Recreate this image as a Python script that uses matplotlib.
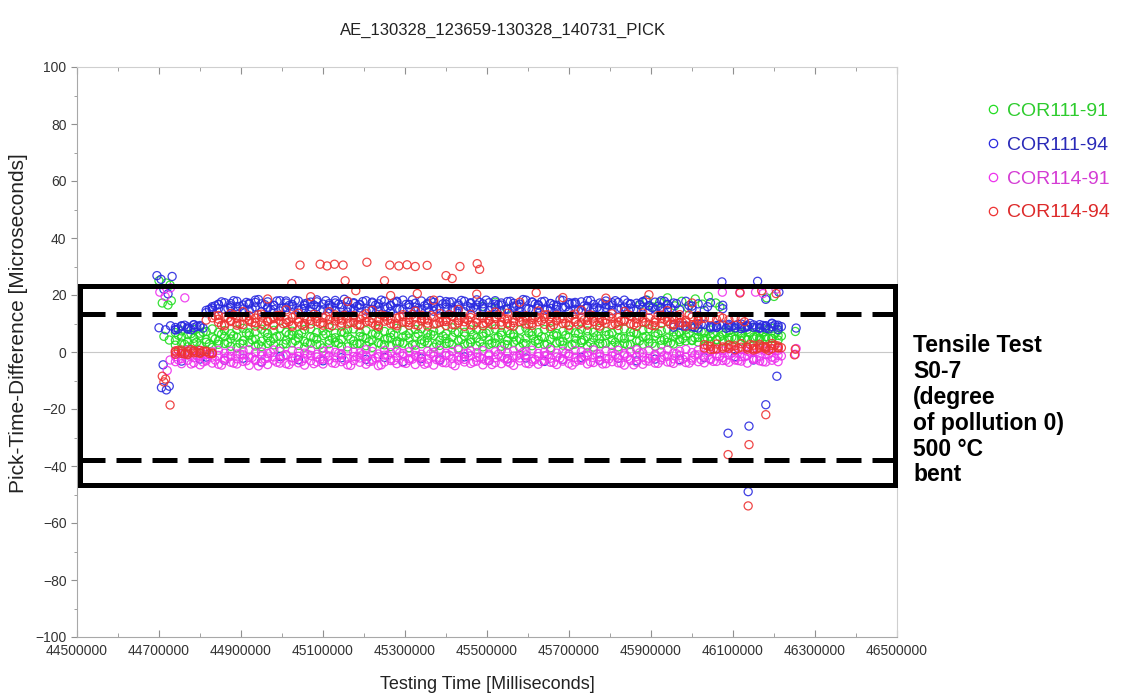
import matplotlib
matplotlib.use("Agg")
import matplotlib.pyplot as plt
from matplotlib.patches import Rectangle
from matplotlib.lines import Line2D
from matplotlib.ticker import MultipleLocator

plt.rcParams['font.family'] = ['Liberation Sans', 'DejaVu Sans']

# ---------------------------------------------------------------- data
title = "AE_130328_123659-130328_140731_PICK"
series_names = ["COR111-91", "COR111-94", "COR114-91", "COR114-94"]

# sample clocks of the pick stream [ms]
times = [
    44740000, 44755000, 44770000, 44785000, 44800000, 44815000, 44830000, 44845000, 44860000, 44875000,
    44890000, 44905000, 44920000, 44935000, 44950000, 44965000, 44980000, 44995000, 45010000, 45025000,
    45040000, 45055000, 45070000, 45085000, 45100000, 45115000, 45130000, 45145000, 45160000, 45175000,
    45190000, 45205000, 45220000, 45235000, 45250000, 45265000, 45280000, 45295000, 45310000, 45325000,
    45340000, 45355000, 45370000, 45385000, 45400000, 45415000, 45430000, 45445000, 45460000, 45475000,
    45490000, 45505000, 45520000, 45535000, 45550000, 45565000, 45580000, 45595000, 45610000, 45625000,
    45640000, 45655000, 45670000, 45685000, 45700000, 45715000, 45730000, 45745000, 45760000, 45775000,
    45790000, 45805000, 45820000, 45835000, 45850000, 45865000, 45880000, 45895000, 45910000, 45925000,
    45940000, 45955000, 45970000, 45985000, 46000000, 46015000, 46030000, 46045000, 46060000, 46075000,
    46090000, 46105000, 46120000, 46135000, 46150000, 46165000, 46180000, 46195000, 46210000,
]
times_b = [
    44747000, 44762500, 44778000, 44792000, 44807500, 44823000, 44837000, 44852500, 44868000, 44882000,
    44897500, 44913000, 44927000, 44942500, 44958000, 44972000, 44987500, 45003000, 45017000, 45032500,
    45048000, 45062000, 45077500, 45093000, 45107000, 45122500, 45138000, 45152000, 45167500, 45183000,
    45197000, 45212500, 45228000, 45242000, 45257500, 45273000, 45287000, 45302500, 45318000, 45332000,
    45347500, 45363000, 45377000, 45392500, 45408000, 45422000, 45437500, 45453000, 45467000, 45482500,
    45498000, 45512000, 45527500, 45543000, 45557000, 45572500, 45588000, 45602000, 45617500, 45633000,
    45647000, 45662500, 45678000, 45692000, 45707500, 45723000, 45737000, 45752500, 45768000, 45782000,
    45797500, 45813000, 45827000, 45842500, 45858000, 45872000, 45887500, 45903000, 45917000, 45932500,
    45948000, 45962000, 45977500, 45993000, 46007000, 46022500, 46038000, 46052000, 46067500, 46083000,
    46097000, 46112500, 46128000, 46142000, 46157500, 46173000, 46187000, 46202500, 46218000,
]

# COR111-91 pick-time differences [us]
cor111_91_a = [
    6.8, 7.4, 6.1, 7.9, 6.6, 7.2, 8.1, 6.9, 7.5, 6.4,
    7.8, 8.3, 6.7, 7.1, 8.0, 6.5, 7.6, 8.4, 6.9, 7.3,
    6.2, 7.9, 8.2, 6.8, 7.4, 8.6, 6.6, 7.0, 7.8, 8.1,
    6.9, 7.5, 6.3, 8.0, 7.2, 6.7, 8.3, 7.6, 6.5, 7.9,
    8.2, 6.8, 7.3, 7.7, 6.4, 8.5, 7.0, 6.9, 7.8, 8.0,
    6.6, 7.4, 8.1, 6.9, 7.5, 6.3, 7.7, 8.4, 7.1, 6.8,
    7.9, 8.2, 6.5, 7.3, 7.8, 6.7, 8.0, 7.4, 6.9, 8.3,
    7.2, 6.6, 7.9, 8.1, 7.0, 6.4, 7.6, 8.2, 6.8, 7.5,
    8.0, 7.1, 6.7, 7.8, 8.4, 7.3, 6.9, 7.7, 8.6, 7.0,
    7.5, 8.2, 6.8, 7.9, 8.5, 7.2, 7.8, 8.3, 7.6,
]
cor111_91_b = [
    4.1, 5.3, 3.6, 4.8, 5.6, 4.4, 5.0, 3.9, 5.4, 4.6,
    5.2, 4.0, 5.7, 4.5, 3.8, 5.1, 4.7, 5.5, 4.2, 5.9,
    4.9, 3.7, 5.3, 4.6, 5.8, 4.1, 5.0, 4.4, 5.6, 3.9,
    5.4, 4.8, 4.2, 5.7, 4.5, 5.1, 3.8, 5.3, 4.9, 5.5,
    4.3, 5.0, 5.8, 4.1, 4.7, 5.2, 3.9, 5.6, 4.4, 5.0,
    5.5, 4.2, 4.8, 5.9, 4.0, 5.3, 4.6, 4.9, 5.7, 4.3,
    5.1, 4.5, 5.6, 3.8, 5.2, 4.8, 4.1, 5.4, 5.0, 4.6,
    5.8, 4.3, 5.0, 4.7, 5.5, 3.9, 5.2, 4.6, 5.6, 4.1,
    4.9, 5.3, 4.4, 5.7, 4.0, 5.1, 4.8, 5.5, 4.2, 5.9,
    5.0, 4.5, 5.6, 4.3, 5.2, 4.9, 5.4, 4.7, 5.8,
]
cor111_91_c = [
    2.4, 3.1, 1.8, 2.9, 2.2, 3.4, 1.6, 2.7, 3.0, 2.0,
    1.5, 2.8, 3.3, 2.1, 1.9, 3.0, 2.5, 1.3, 2.9, 3.2,
    2.3, 1.7, 3.1, 2.6, 1.4, 2.9, 3.4, 2.0, 1.8, 2.7,
    3.0, 2.2, 1.6, 3.3, 2.5, 1.9, 2.8, 3.1, 1.5, 2.4,
    2.9, 3.2, 1.7, 2.3, 3.0, 2.6, 1.4, 2.8, 3.3, 2.1,
    1.8, 2.7, 3.1, 2.0, 2.5, 3.4, 1.6, 2.9, 2.2, 3.0,
    2.6, 1.5, 3.2, 2.4, 1.9, 2.8, 3.3, 2.1, 1.7, 2.9,
    3.1, 2.3, 1.8, 3.0, 2.6, 1.4, 2.7, 3.2, 2.0, 2.5,
    3.4, 2.8, 3.6, 3.9, 4.2, 3.5, 4.0, 3.7, 4.4, 3.8,
    4.1, 4.5, 3.9, 4.3, 4.6, 4.0, 4.4, 4.8, 4.2,
]
cor111_91_d = [
    5.9, 2.7, 6.4, 3.5, 7.0, 2.9, 4.6, 6.2, 3.3, 5.7,
    3.0, 6.6, 4.3, 2.6, 6.9, 3.8, 5.5, 2.8, 6.1, 4.0,
    6.7, 3.2, 5.1, 2.5, 6.3, 4.8, 3.1, 6.8, 4.5, 2.9,
    5.3, 3.6, 6.5, 2.7, 4.9, 6.0, 3.4, 5.8, 2.6, 6.4,
    3.7, 6.2, 2.8, 5.6, 3.3, 6.9, 4.4, 2.9, 6.1, 3.5,
    6.6, 3.1, 5.2, 2.7, 6.3, 4.1, 3.0, 6.7, 3.8, 5.4,
    2.8, 6.0, 3.6, 5.9, 2.6, 6.5, 4.2, 3.3, 5.7, 2.9,
    6.2, 3.4, 5.0, 2.5, 6.8, 3.9, 5.5, 3.0, 6.4, 4.3,
    3.2, 6.1, 4.7, 6.6, 5.0, 7.1, 4.6, 6.3, 5.3, 6.9,
    5.1, 7.3, 4.9, 6.7, 5.4, 7.0, 4.8, 6.5, 5.6,
]

# COR111-94
cor111_94_a = [
    8.6, 9.2, 8.3, 9.5, 8.9, 14.6, 15.9, 16.8, 17.3, 16.2,
    17.8, 16.5, 17.1, 18.2, 16.9, 17.6, 16.4, 18.0, 17.2, 16.7,
    17.9, 16.3, 17.5, 18.3, 16.8, 17.0, 18.1, 16.6, 17.7, 17.3,
    16.5, 18.0, 17.2, 16.9, 17.8, 16.4, 17.5, 18.2, 16.7, 17.1,
    17.9, 16.6, 17.4, 18.1, 16.8, 17.6, 16.3, 17.8, 17.0, 18.3,
    16.9, 17.3, 18.0, 16.5, 17.7, 17.1, 16.8, 18.2, 17.4, 16.6,
    17.8, 17.0, 16.4, 18.1, 17.3, 16.9, 17.6, 18.0, 16.7, 17.2,
    17.9, 16.5, 17.4, 18.2, 16.8, 17.1, 17.7, 16.3, 17.5, 18.0,
    16.6, 17.2, 9.4, 17.8, 8.9, 16.9, 9.7, 17.3, 8.6, 16.4,
    9.2, 8.5, 9.8, 8.8, 9.5, 8.3, 9.1, 9.9, 8.7,
]
cor111_94_b = [
    7.7, 9.0, 8.0, 8.5, 9.3, 13.8, 14.6, 15.2, 14.9, 15.6,
    14.3, 15.1, 14.7, 15.8, 14.1, 15.4, 14.9, 14.4, 15.6, 15.0,
    14.6, 15.3, 14.2, 15.9, 14.8, 15.2, 14.5, 15.7, 14.0, 15.1,
    15.5, 14.4, 15.0, 14.7, 15.8, 14.2, 15.3, 14.9, 15.6, 14.6,
    14.8, 15.4, 14.3, 15.1, 15.7, 14.5, 15.0, 14.1, 15.5, 14.9,
    15.2, 14.6, 15.8, 14.4, 15.0, 15.6, 14.3, 15.1, 14.8, 15.4,
    14.7, 15.3, 14.9, 15.7, 14.2, 15.0, 14.6, 15.5, 14.8, 15.2,
    15.6, 14.5, 15.1, 14.3, 15.4, 14.9, 15.8, 14.6, 15.0, 14.4,
    15.3, 8.7, 14.8, 9.2, 15.1, 8.4, 14.6, 9.0, 8.8, 9.5,
    8.6, 9.3, 8.2, 9.0, 8.7, 9.6, 8.4, 8.9, 9.4,
]
cor111_94_c = [
    7.9, -3.2, 8.8, 9.6, -2.5, -1.8, 15.4, 16.6, -2.9, 17.0,
    15.9, -2.2, 16.8, 17.4, -3.5, 15.7, 16.3, -1.6, 17.9, 16.1,
    -2.7, 16.9, 15.8, 17.6, -3.1, 16.4, 17.2, -2.0, 15.6, 17.0,
    16.7, -2.6, 17.5, 15.9, -1.9, 16.2, 17.8, -3.4, 16.6, 15.7,
    -2.3, 17.1, 16.0, -2.8, 17.7, 15.5, 16.9, -1.7, 17.3, 16.5,
    15.8, -3.0, 16.8, 17.2, -2.4, 16.1, 15.6, -2.1, 17.6, 16.4,
    -3.3, 17.0, 15.9, -2.6, 16.7, 17.4, -1.9, 16.0, 15.4, -2.9,
    16.6, 17.3, -2.2, 15.8, 16.9, -3.1, 17.5, 16.2, -2.5, 15.7,
    16.8, 9.6, -2.7, 9.0, 16.1, 9.8, -2.0, 8.5, 9.3, 15.2,
    9.7, -1.6, 8.9, 9.4, -2.8, 8.6, 9.2, 10.1, 7.9,
]
cor111_94_d = [
    8.1, 9.4, 7.8, 9.0, 8.4, 15.0, 16.2, 17.6, 15.3, 18.0,
    16.0, 17.4, 15.2, 18.4, 16.6, 14.8, 17.9, 15.5, 16.3, 18.1,
    15.1, 17.2, 16.5, 14.7, 18.0, 15.9, 16.8, 18.5, 15.4, 16.1,
    17.7, 15.0, 16.4, 18.2, 15.6, 17.3, 14.9, 16.7, 18.3, 15.3,
    16.2, 18.0, 15.1, 16.9, 17.5, 14.8, 18.1, 16.0, 15.5, 17.4,
    18.2, 15.7, 16.6, 14.9, 17.8, 16.3, 18.4, 15.2, 16.8, 17.6,
    15.0, 16.5, 18.3, 15.8, 17.1, 14.7, 16.2, 18.1, 15.6, 17.0,
    16.4, 18.0, 15.3, 17.2, 14.9, 16.7, 18.2, 15.5, 16.1, 17.8,
    15.4, 17.0, 9.1, 16.3, 8.6, 9.8, 15.9, 8.9, 9.6, 8.3,
    9.0, 9.7, 8.5, 10.0, 8.8, 9.3, 8.1, 9.5, 8.9,
]

# COR114-91
cor114_91_a = [
    0.2, -0.6, 0.7, -0.3, 0.5, -0.8, 0.1, 0.6, -0.4, 0.3,
    -0.7, 0.4, 0.8, -0.2, 0.0, -0.5, 0.7, 0.2, -0.9, 0.5,
    0.1, -0.4, 0.6, -0.8, 0.3, 0.7, -0.1, -0.6, 0.4, 0.0,
    -0.3, 0.8, 0.2, -0.7, 0.5, -0.2, 0.6, -0.5, 0.1, 0.7,
    -0.8, 0.3, -0.1, 0.6, -0.4, 0.2, 0.8, -0.6, 0.4, -0.2,
    0.5, -0.7, 0.1, 0.7, -0.3, 0.4, -0.8, 0.2, 0.6, -0.5,
    0.0, 0.8, -0.4, 0.3, -0.6, 0.5, 0.1, -0.2, 0.7, -0.7,
    0.4, -0.1, 0.6, -0.5, 0.2, 0.8, -0.3, 0.5, -0.8, 0.1,
    0.7, -0.4, 0.3, 0.9, -0.2, 0.6, 1.0, 0.2, 0.8, 0.4,
    1.1, 0.5, 0.9, 0.3, 1.2, 0.7, 0.4, 1.0, 0.6,
]
cor114_91_b = [
    -1.6, -2.3, -1.1, -2.0, -1.4, -2.5, -1.8, -1.2, -2.2, -1.5,
    -2.4, -1.0, -1.9, -2.6, -1.3, -2.1, -1.7, -2.4, -1.1, -2.0,
    -1.5, -2.3, -1.2, -1.8, -2.5, -1.4, -2.0, -1.0, -2.2, -1.6,
    -2.1, -1.3, -2.6, -1.7, -1.1, -2.4, -1.9, -1.4, -2.3, -1.2,
    -1.8, -2.5, -1.5, -2.0, -1.2, -2.2, -1.6, -2.6, -1.3, -1.9,
    -2.4, -1.1, -2.0, -1.7, -2.3, -1.4, -2.1, -1.0, -2.5, -1.6,
    -1.3, -2.2, -1.8, -2.6, -1.5, -1.9, -2.4, -1.2, -2.0, -1.7,
    -2.3, -1.4, -2.1, -1.1, -2.5, -1.6, -1.9, -2.2, -1.3, -2.0,
    -1.5, -2.4, -1.2, -1.8, -2.1, -1.0, -1.7, -2.3, -1.4, -1.9,
    -1.1, -2.0, -1.6, -1.3, -2.2, -1.5, -0.9, -1.8, -1.2,
]
cor114_91_c = [
    -3.4, -4.1, -2.9, -3.8, -4.5, -3.1, -3.9, -4.3, -3.0, -3.6,
    -4.2, -3.3, -4.7, -3.0, -3.7, -4.4, -2.9, -3.9, -4.1, -3.2,
    -3.8, -4.6, -3.1, -3.5, -4.2, -2.8, -4.0, -3.4, -4.5, -3.0,
    -3.6, -4.3, -3.2, -4.8, -3.5, -3.0, -4.1, -3.7, -2.9, -4.4,
    -3.3, -3.9, -4.6, -3.1, -3.8, -4.2, -2.9, -3.5, -4.0, -3.2,
    -4.5, -3.0, -3.7, -4.1, -3.4, -4.7, -3.1, -3.9, -3.3, -4.3,
    -3.0, -3.6, -4.4, -3.2, -4.0, -3.5, -2.9, -4.2, -3.7, -3.1,
    -4.1, -3.4, -3.8, -4.6, -3.0, -3.6, -4.3, -3.2, -3.9, -2.8,
    -3.5, -4.0, -3.1, -3.7, -2.9, -3.4, -3.8, -2.7, -3.3, -3.0,
    -3.6, -2.8, -3.2, -3.9, -2.6, -3.1, -3.5, -2.9, -3.4,
]
cor114_91_d = [
    -2.7, -0.4, -4.2, -1.3, -3.5, -0.9, -2.8, -4.6, -1.6, -3.9,
    -0.7, -3.1, -1.9, -4.9, -2.4, -0.2, -3.6, -1.4, -4.4, -2.1,
    -3.3, -0.8, -4.1, -2.6, -1.0, -3.8, -0.5, -2.9, -4.7, -1.7,
    -0.9, -3.4, -2.0, -4.5, -1.2, -3.0, -0.3, -4.0, -2.5, -1.5,
    -4.3, -0.6, -2.7, -3.7, -1.1, -4.8, -2.2, -0.4, -3.5, -1.8,
    -3.0, -4.4, -0.8, -2.3, -3.9, -1.4, -0.1, -4.1, -2.6, -3.3,
    -1.0, -3.7, -2.1, -0.5, -4.6, -2.8, -1.3, -3.5, -0.7, -4.2,
    -2.4, -0.9, -3.9, -1.6, -4.5, -0.3, -3.1, -2.0, -4.0, -1.2,
    -3.6, -0.6, -2.5, -3.9, -1.0, -2.7, -0.2, -3.3, -1.5, -2.9,
    -0.4, -3.0, -1.7, -0.1, -2.6, -3.4, -0.8, -2.2, -1.4,
]

# COR114-94
cor114_94_a = [
    0.4, -0.5, 0.2, -0.3, 0.6, 11.2, 12.0, 11.5, 12.3, 11.1,
    11.8, 12.4, 11.3, 11.9, 12.2, 11.0, 11.7, 12.5, 11.4, 12.1,
    11.6, 12.3, 11.1, 11.8, 12.0, 11.4, 12.4, 11.2, 11.9, 12.2,
    11.5, 12.1, 11.8, 11.0, 12.3, 11.6, 11.9, 12.4, 11.3, 12.0,
    11.7, 11.2, 12.2, 11.9, 11.4, 12.5, 11.1, 11.8, 12.1, 11.5,
    12.0, 11.3, 11.7, 12.3, 11.6, 11.0, 12.2, 11.9, 11.4, 12.1,
    11.8, 12.4, 11.2, 11.7, 12.0, 11.5, 12.3, 11.1, 11.9, 12.2,
    11.4, 11.8, 12.1, 11.3, 12.5, 11.6, 11.9, 12.0, 11.2, 11.7,
    12.2, 11.5, 11.9, 11.1, 12.3, 11.6, 11.8, 12.0, 11.4, 11.9,
    11.3, 12.1, 11.6, 1.8, 1.2, 2.1, 1.5, 2.3, 1.6,
]
cor114_94_b = [
    -0.8, 0.1, -0.4, 0.5, -0.2, 0.3, -0.6, 10.4, 9.8, 10.7,
    10.1, 9.6, 10.8, 10.3, 9.9, 10.6, 9.7, 10.9, 10.2, 9.5,
    10.5, 10.0, 9.8, 10.7, 10.3, 9.6, 10.9, 10.1, 9.9, 10.4,
    9.7, 10.6, 10.2, 9.5, 10.8, 10.0, 9.9, 10.5, 10.3, 9.6,
    10.9, 10.1, 9.8, 10.4, 10.7, 9.7, 10.2, 10.6, 9.5, 10.3,
    10.0, 10.8, 9.6, 10.5, 9.9, 10.3, 10.7, 9.8, 10.1, 10.6,
    9.7, 10.4, 10.9, 10.0, 9.5, 10.6, 10.2, 9.8, 10.7, 10.3,
    10.1, 9.6, 10.5, 10.8, 9.9, 10.2, 10.6, 9.7, 10.4, 10.0,
    10.7, 9.8, 10.3, 10.5, 9.6, 10.9, 1.4, 2.0, 1.1, 1.8,
    1.3, 2.2, 1.7, 1.0, 2.4, 1.5, 1.9, 1.2, 2.1,
]
cor114_94_c = [
    -0.1, 0.7, -0.9, 0.3, -0.5, 0.1, -0.3, 12.8, 9.2, 13.5,
    9.4, 14.2, 12.7, 9.1, 13.3, 18.6, 9.3, 12.9, 14.8, 9.0,
    13.6, 9.2, 19.4, 12.6, 9.4, 14.1, 13.0, 9.1, 17.8, 12.8,
    9.3, 13.4, 14.6, 9.0, 12.7, 19.8, 9.2, 13.1, 9.4, 14.3,
    12.9, 9.1, 18.2, 13.5, 9.3, 12.6, 14.9, 9.0, 13.2, 20.3,
    9.2, 12.8, 14.0, 9.4, 13.6, 9.1, 17.5, 12.7, 9.3, 14.4,
    13.0, 9.0, 12.9, 19.1, 9.2, 13.3, 14.7, 9.4, 12.6, 9.1,
    18.9, 13.4, 9.3, 14.2, 12.8, 9.0, 13.7, 20.1, 9.2, 12.9,
    14.5, 9.4, 13.1, 9.1, 17.2, 12.7, 2.6, 0.9, 2.8, 1.3,
    2.5, 0.8, 2.9, 1.6, 0.7, 2.7, 1.1, 3.0, 1.4,
]
cor114_94_d = [
    0.6, -0.7, 0.9, -0.2, 0.3, -0.5, 12.6, 9.4, 11.9, 13.0,
    9.8, 12.2, 10.4, 13.1, 9.3, 11.5, 12.8, 9.9, 10.6, 12.9,
    9.5, 11.3, 13.2, 10.0, 12.5, 9.2, 11.7, 12.9, 10.3, 9.6,
    12.7, 10.8, 9.4, 13.0, 11.1, 9.7, 12.4, 10.5, 13.2, 9.3,
    11.4, 12.8, 9.9, 10.7, 13.1, 9.5, 12.0, 11.2, 9.4, 12.6,
    10.2, 9.6, 13.0, 11.6, 9.3, 12.7, 10.9, 9.8, 12.4, 11.0,
    13.1, 9.5, 11.8, 10.1, 12.9, 9.7, 11.3, 13.0, 9.4, 10.8,
    12.5, 9.9, 11.0, 13.2, 9.6, 12.3, 10.4, 9.3, 12.8, 11.5,
    9.7, 12.6, 10.2, 13.0, 9.5, 11.8, 2.2, 1.0, 12.4, 1.7,
    2.0, 1.3, 10.6, 2.6, 1.1, 1.9, 0.6, 2.4, 1.5,
]

# isolated picks (start-up burst, fracture phase, stray picks)
cor111_91_x = [44700000, 44718000, 44727000, 44708000, 44722000, 44730000, 44712000, 44725000,
               45490000, 45520000, 45548000, 45873000, 45890000, 45905000, 45921000, 45940000,
               45958000, 45975000, 45990000, 46008000, 46025000, 46040000, 46058000, 46068000,
               46182000, 46200000, 46252000]
cor111_91_y = [25.0, 24.2, 23.5, 17.2, 16.5, 18.0, 5.5, 4.2,
               16.0, 17.5, 15.2, 16.5, 18.2, 15.8, 17.5, 19.0,
               16.2, 17.8, 15.5, 18.6, 16.8, 19.5, 17.2, 15.9,
               19.0, 19.5, 7.2]

cor111_94_x = [44695000, 44705000, 44732000, 44722000, 44712000, 44700000, 44716000, 44728000,
               44710000, 44706000, 44725000, 44718000,
               46073000, 46160000, 46180000, 46088000, 46139000, 46137000, 46180000, 46207000,
               46254000, 46212000]
cor111_94_y = [26.8, 25.5, 26.5, 20.4, 22.0, 8.5, 7.8, 9.2,
               -4.5, -12.5, -12.0, -13.3,
               24.6, 24.8, 18.5, -28.5, -26.0, -49.0, -18.5, -8.5,
               8.4, 21.0]

cor114_91_x = [44702000, 44715000, 44728000, 44763000, 44727000, 44720000,
               46074000, 46117000, 46155000, 46173000, 46205000, 46252000, 46254000]
cor114_91_y = [21.0, 19.5, 22.5, 19.0, -2.8, -6.5,
               21.0, 21.0, 21.0, 20.5, 22.0, -0.8, 1.2]

cor114_94_x = [44708000, 44716000, 44727000, 44712000,
               45044000, 45093000, 45110000, 45128000, 45149000, 45207000, 45263000, 45285000,
               45305000, 45325000, 45354000, 45434000, 45476000, 45482000,
               45024000, 45154000, 45250000, 45400000, 45415000, 45180000, 45330000, 45620000,
               46088000, 46139000, 46137000, 46180000, 46170000, 46205000, 46117000,
               46252000, 46250000]
cor114_94_y = [-8.5, -9.5, -18.6, -10.5,
               30.5, 30.8, 30.2, 30.8, 30.5, 31.5, 30.5, 30.2,
               30.6, 30.0, 30.4, 30.0, 31.0, 29.0,
               24.0, 25.0, 25.0, 26.8, 25.8, 21.5, 20.5, 20.8,
               -36.0, -32.5, -54.0, -22.0, 21.5, 20.5, 20.7,
               1.0, -1.0]

# acceptance window and limits drawn on the chart
window_x = (44507000, 46494000)
window_y = (-46.5, 23.0)
upper_limit = 13.3
lower_limit = -37.8
note_lines = ["Tensile Test", "S0-7", "(degree", "of pollution 0)", "500 \u00b0C", "bent"]

colors = ["#22dd22", "#2a2ae0", "#ee33ee", "#ee3333"]
label_colors = ["#2ecc2e", "#2a2ab8", "#d43cd4", "#dd2a2a"]

# ---------------------------------------------------------------- figure
fig = plt.figure(figsize=(11.21, 6.95), dpi=100)
ax = fig.add_axes([77 / 1121, 58 / 695, 820 / 1121, 570 / 695])

groups = [
    (series_names[0], [cor111_91_a, cor111_91_b, cor111_91_c], cor111_91_d, cor111_91_x, cor111_91_y),
    (series_names[1], [cor111_94_a, cor111_94_b, cor111_94_c], cor111_94_d, cor111_94_x, cor111_94_y),
    (series_names[2], [cor114_91_a, cor114_91_b, cor114_91_c], cor114_91_d, cor114_91_x, cor114_91_y),
    (series_names[3], [cor114_94_a, cor114_94_b, cor114_94_c], cor114_94_d, cor114_94_x, cor114_94_y),
]

style = dict(s=34, facecolors="none", linewidths=0.9, alpha=0.9)
for k, (name, rows, row_b, ox, oy) in enumerate(groups):
    z = 2 + k * 0.1
    for row in rows:
        ax.scatter(times, row, edgecolors=colors[k], zorder=z, **style)
    ax.scatter(times_b, row_b, edgecolors=colors[k], zorder=z, **style)
    ax.scatter(ox, oy, edgecolors=colors[k], zorder=z, **style)

ax.axhline(0, color="#c8c8c8", lw=0.8, zorder=1)

# acceptance window and limit lines
ax.add_patch(Rectangle((window_x[0], window_y[0]), window_x[1] - window_x[0],
                       window_y[1] - window_y[0], fill=False, ec="black", lw=3.6,
                       zorder=5, clip_on=False))
for lim in (upper_limit, lower_limit):
    ax.plot([window_x[0], window_x[1]], [lim, lim], color="black", lw=3.6,
            dashes=(5, 2.2), zorder=5, dash_capstyle="butt")

ax.set_xlim(44500000, 46500000)
ax.set_ylim(-100, 100)
ax.set_xticks(list(range(44500000, 46500001, 200000)))
ax.set_xticklabels([str(v) for v in range(44500000, 46500001, 200000)])
ax.set_yticks(list(range(-100, 101, 20)))
ax.xaxis.set_minor_locator(MultipleLocator(100000))
ax.yaxis.set_minor_locator(MultipleLocator(10))
ax.tick_params(axis="x", which="both", direction="in", top=True, color="#909090",
               labelsize=10, pad=5, labelcolor="#333333")
ax.tick_params(axis="x", which="major", length=5)
ax.tick_params(axis="x", which="minor", length=3)
ax.tick_params(axis="y", which="both", direction="out", color="#909090",
               labelsize=10, labelcolor="#333333")
ax.tick_params(axis="y", which="major", length=4)
ax.tick_params(axis="y", which="minor", length=2)
for side in ("left", "bottom"):
    ax.spines[side].set_color("#a8a8a8")
for side in ("top", "right"):
    ax.spines[side].set_color("#cfcfcf")

ax.set_xlabel("Testing Time [Milliseconds]", fontsize=13, color="#222222")
ax.xaxis.set_label_coords(0.5, -0.068)
ax.set_ylabel("Pick-Time-Difference [Microseconds]", fontsize=15, color="#222222")
ax.yaxis.set_label_coords(-0.06, 0.55)

fig.text(0.449, 0.956, title, ha="center", va="center", fontsize=12, color="#222222")

handles = [Line2D([], [], ls="none", marker="o", markersize=6, mfc="none",
                  mec=c, mew=0.9) for c in colors]
fig.legend(handles, series_names, loc="upper left", bbox_to_anchor=(985 / 1121, 1 - 102 / 695),
           frameon=False, fontsize=14, labelcolor=label_colors, handlelength=0.8,
           handletextpad=0.35, labelspacing=0.84, borderpad=0, borderaxespad=0)

fig.text(913 / 1121, 1 - 334 / 695, "\n".join(note_lines), ha="left", va="top",
         fontsize=16.5, fontweight="bold", color="black", linespacing=1.16)

fig.savefig("out.png", dpi=100)
